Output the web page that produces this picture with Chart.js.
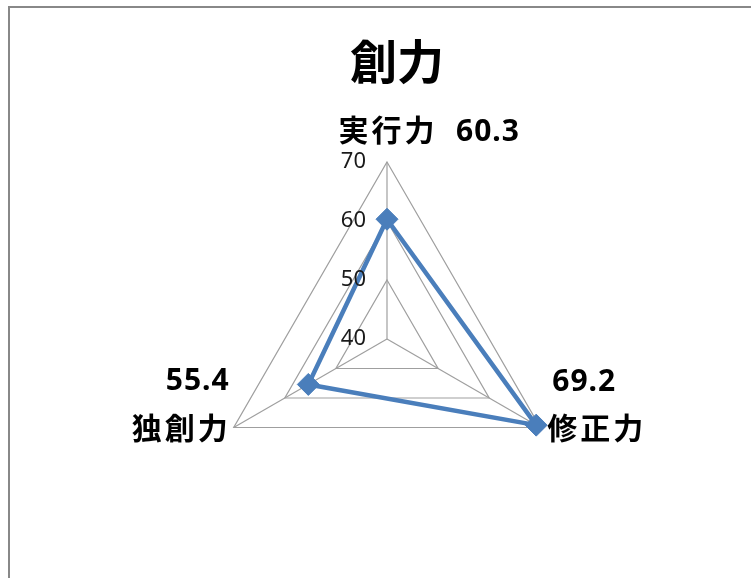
<!DOCTYPE html>
<html>
<head>
<meta charset="utf-8">
<script src="https://cdn.jsdelivr.net/npm/chart.js@4"></script>
<style>
  html, body { margin: 0; padding: 0; background: #fff; overflow: hidden; }
  #frame { position: absolute; left: 8px; top: 6px; width: 800px; height: 700px; border: 2px solid #888; }
  #wrap { position: absolute; left: 0; top: 0; width: 751px; height: 578px; }
</style>
</head>
<body>
<div id="frame"></div>
<div id="wrap"><canvas id="myChart" width="751" height="578"></canvas></div>
<script>
var titleText = '創力';
var labels = ['実行力', '修正力', '独創力'];
var values = [60.3, 69.2, 55.4];
var tickValues = [40, 50, 60, 70];

var blue = '#4a7ebb';

// title, tick numbers and the axis/value labels drawn next to the scale
var labelPlugin = {
  id: 'labelPlugin',
  afterDraw: function (chart) {
    var ctx = chart.ctx;
    var s = chart.scales.r;
    ctx.save();
    ctx.fillStyle = '#000';
    ctx.font = 'bold 47px "Noto Sans CJK JP"';
    ctx.textAlign = 'center';
    ctx.textBaseline = 'middle';
    ctx.fillText(titleText, 397, 61);

    ctx.font = '22px "Noto Sans"';
    ctx.fillStyle = '#1a1a1a';
    ctx.textAlign = 'right';
    s.ticks.forEach(function (t) {
      var d = s.getDistanceFromCenterForValue(t.value);
      ctx.fillText(String(t.value), s.xCenter - 21, s.yCenter - d);
    });

    ctx.fillStyle = '#000';
    labels.forEach(function (lab, i) {
      var p = s.getPointPosition(i, s.drawingArea);
      var v = values[i].toFixed(1);
      ctx.font = 'bold 30px "Noto Sans CJK JP"';
      ctx.letterSpacing = '3px';
      if (i === 0) {
        ctx.textAlign = 'center';
        ctx.fillText(lab, p.x + 1, p.y - 32);
      } else if (i === 1) {
        ctx.textAlign = 'left';
        ctx.fillText(lab, p.x + 7, p.y);
      } else {
        ctx.textAlign = 'right';
        ctx.fillText(lab, p.x - 3, p.y);
      }
      ctx.font = 'bold 30px "Noto Sans"';
      ctx.letterSpacing = '1px';
      if (i === 0) {
        ctx.textAlign = 'left';
        ctx.fillText(v, p.x + 69, p.y - 30);
      } else if (i === 1) {
        ctx.textAlign = 'left';
        ctx.fillText(v, p.x + 12, p.y - 45);
      } else {
        ctx.textAlign = 'right';
        ctx.fillText(v, p.x - 4, p.y - 46);
      }
    });
    ctx.restore();
  }
};

var ctx = document.getElementById('myChart').getContext('2d');
var chart = new Chart(ctx, {
  type: 'radar',
  data: {
    labels: labels,
    datasets: [{
      label: titleText,
      data: values,
      borderColor: blue,
      borderWidth: 4.5,
      backgroundColor: blue,
      fill: false,
      pointStyle: 'rectRot',
      pointRadius: 11,
      pointHoverRadius: 11,
      pointBackgroundColor: blue,
      pointBorderColor: blue,
      pointBorderWidth: 1
    }]
  },
  options: {
    responsive: false,
    animation: false,
    layout: { padding: { left: 210, right: 187, top: 162, bottom: 62 } },
    plugins: {
      legend: { display: false },
      title: { display: false },
      tooltip: { enabled: false }
    },
    scales: {
      r: {
        min: tickValues[0],
        max: tickValues[tickValues.length - 1],
        ticks: { stepSize: 10, display: false },
        grid: { color: '#9f9f9f', lineWidth: 1.2 },
        angleLines: { color: '#9f9f9f', lineWidth: 1.2 },
        pointLabels: { display: false }
      }
    }
  },
  plugins: [labelPlugin]
});
</script>
</body>
</html>
